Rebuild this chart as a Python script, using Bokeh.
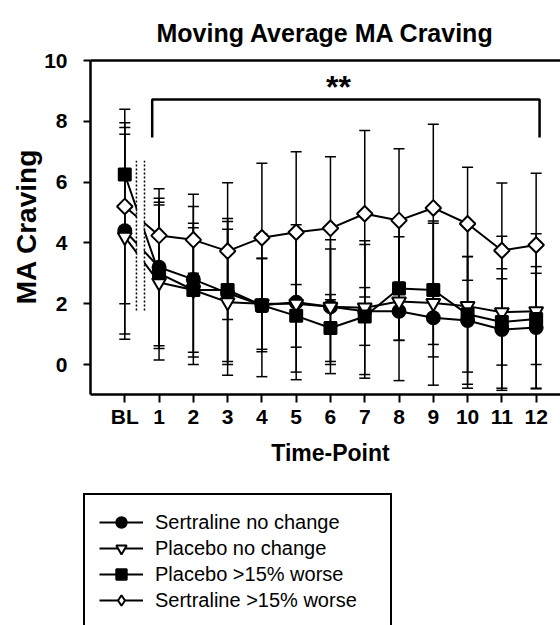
from bokeh.plotting import figure
from bokeh.models import (Range1d, LinearAxis, FixedTicker, ColumnDataSource, Whisker,
                          TeeHead, Legend, LegendItem, Label)
from bokeh.embed import file_html
from bokeh.resources import INLINE
import math

# ---------------- data ----------------
time_labels = ["BL", "1", "2", "3", "4", "5", "6", "7", "8", "9", "10", "11", "12"]
time_pos = list(range(13))

sert_nc = [4.40, 3.20, 2.80, 2.35, 1.95, 2.05, 1.90, 1.75, 1.75, 1.54, 1.45, 1.15, 1.22]
sert_nc_sd = [3.40, 2.58, 2.80, 2.35, 2.35, 2.55, 2.20, 2.20, 0.96, 0.88, 2.10, 2.00, 2.00]
plac_nc = [4.20, 2.70, 2.45, 2.05, 2.00, 2.00, 1.90, 1.87, 2.07, 2.02, 1.92, 1.72, 1.75]
plac_nc_sd = [3.37, 2.55, 2.05, 2.40, 1.50, 2.25, 1.90, 2.20, 2.60, 2.70, 2.70, 2.50, 2.55]
plac_w = [6.25, 3.00, 2.45, 2.45, 1.95, 1.60, 1.20, 1.58, 2.50, 2.45, 1.65, 1.40, 1.50]
plac_w_sd = [1.70, 2.47, 2.20, 2.35, 1.53, 1.03, 1.10, 0.95, 1.70, 2.20, 1.90, 1.42, 1.50]
sert_w = [5.20, 4.24, 4.10, 3.73, 4.17, 4.35, 4.48, 4.96, 4.74, 5.15, 4.63, 3.75, 3.93]
sert_w_sd = [3.20, 1.10, 1.10, 2.25, 2.45, 2.65, 2.35, 2.74, 2.36, 2.75, 1.86, 2.22, 2.36]

series_names = ["Sertraline no change", "Placebo no change", "Placebo >15% worse", "Sertraline >15% worse"]
y_ticks = [0, 2, 4, 6, 8, 10]

bracket_x = [0.8, 0.8, 12.1, 12.1]
bracket_y = [7.47, 8.72, 8.72, 7.47]
sig_text = "**"

break_x = [0.34, 0.575]
break_y = (1.78, 6.7)

FONT = "Liberation Sans"
W, H = 560, 625
PX_X, PX_Y = 34.28, 30.4          # pixels per data unit
LEFT_PX, TOP_PX = 90, 60          # axis position inside the canvas

x0 = -1 - LEFT_PX / PX_X
x1 = -1 + (W - LEFT_PX) / PX_X
y1 = 10 + TOP_PX / PX_Y
y0 = 10 - (H - TOP_PX) / PX_Y

def dx(px):
    return x0 + px / PX_X

def dy(py):
    return y1 - py / PX_Y

p = figure(width=W, height=H, x_range=Range1d(x0, x1), y_range=Range1d(y0, y1),
           output_backend="svg", toolbar_location=None, title=None,
           min_border_left=0, min_border_right=0, min_border_top=0, min_border_bottom=0)
p.outline_line_color = None
p.xgrid.visible = False
p.ygrid.visible = False
p.background_fill_color = "white"
p.border_fill_color = "white"

# axes drawn at fixed data locations
xa = p.xaxis[0]
ya = p.yaxis[0]
xa.ticker = FixedTicker(ticks=time_pos)
xa.major_label_overrides = {i: lbl for i, lbl in zip(time_pos, time_labels)}
xa.fixed_location = -1
xa.bounds = (-1, x1 + 0.05)
ya.ticker = FixedTicker(ticks=y_ticks)
ya.fixed_location = -1
ya.bounds = (-1, 10)
for ax in (xa, ya):
    ax.axis_line_width = 2.5
    ax.axis_line_color = "black"
    ax.major_tick_line_width = 2
    ax.major_tick_line_color = "black"
    ax.major_tick_in = 0
    ax.minor_tick_line_color = None
    ax.major_label_text_font = FONT
    ax.major_label_text_font_style = "bold"
    ax.major_label_text_font_size = "21px"
    ax.major_label_text_color = "black"
xa.major_tick_out = 8
xa.major_label_standoff = 2
ya.major_tick_out = 7
ya.major_label_standoff = 16

top_axis = LinearAxis(ticker=FixedTicker(ticks=[]), axis_line_width=2.5, axis_line_color="black",
                      major_tick_line_color=None, minor_tick_line_color=None,
                      major_label_text_font_size="0px", fixed_location=10,
                      bounds=(-1, x1 + 0.05))
p.add_layout(top_axis, "above")

# titles
p.add_layout(Label(x=dx(325), y=dy(32), text="Moving Average MA Craving", text_align="center",
                   text_baseline="middle", text_font=FONT, text_font_style="bold",
                   text_font_size="25px", text_color="black"))
p.add_layout(Label(x=dx(330), y=dy(452), text="Time-Point", text_align="center",
                   text_baseline="middle", text_font=FONT, text_font_style="bold",
                   text_font_size="23px", text_color="black"))
p.add_layout(Label(x=dx(26), y=dy(226), text="MA Craving", angle=math.pi / 2, text_align="center",
                   text_baseline="middle", text_font=FONT, text_font_style="bold",
                   text_font_size="28px", text_color="black"))

# series
specs = [
    (sert_nc, sert_nc_sd, dict(marker="circle", size=13, fill_color="black", angle=0)),
    (plac_nc, plac_nc_sd, dict(marker="inverted_triangle", size=14, fill_color="white", angle=0)),
    (plac_w, plac_w_sd, dict(marker="square", size=12, fill_color="black", angle=0)),
    (sert_w, sert_w_sd, dict(marker="square", size=11, fill_color="white", angle=math.pi / 4)),
]

line_rs = []
for vals, sds, st in specs:
    line_rs.append(p.line(time_pos, vals, line_color="black", line_width=2))

# broken axis gap between BL and 1
p.quad(left=[break_x[0] + 0.02], right=[break_x[1] - 0.02], bottom=[break_y[0]], top=[break_y[1]],
       fill_color="white", line_color=None)
p.segment(x0=break_x, y0=[break_y[0]] * 2, x1=break_x, y1=[break_y[1]] * 2,
          line_color="black", line_width=1.5, line_dash="2 2")

# error bars
for vals, sds, st in specs:
    src = ColumnDataSource(dict(x=time_pos,
                                upper=[v + s for v, s in zip(vals, sds)],
                                lower=[v - s for v, s in zip(vals, sds)]))
    w = Whisker(base="x", upper="upper", lower="lower", source=src,
                line_color="black", line_width=1.5,
                upper_head=TeeHead(size=11, line_width=1.5, line_color="black"),
                lower_head=TeeHead(size=11, line_width=1.5, line_color="black"))
    p.add_layout(w)

marker_rs = []
for vals, sds, st in specs:
    marker_rs.append(p.scatter(time_pos, vals, marker=st["marker"], size=st["size"],
                               fill_color=st["fill_color"], line_color="black", line_width=2,
                               angle=st["angle"]))
# legend symbol for the diamond series (legend glyphs are drawn unrotated)
diamond_key = p.scatter(time_pos, sert_w, marker="diamond", size=14, fill_color="white",
                        line_color="black", line_width=2, visible=False)

# significance bracket
p.line(bracket_x, bracket_y, line_color="black", line_width=2.5)
p.add_layout(Label(x=dx(338), y=dy(86), text=sig_text, text_align="center",
                   text_baseline="middle", text_font=FONT, text_font_style="bold",
                   text_font_size="32px", text_color="black"))

# legend
key_rs = [[line_rs[0], marker_rs[0]], [line_rs[1], marker_rs[1]],
          [line_rs[2], marker_rs[2]], [line_rs[3], diamond_key]]
items = [LegendItem(label=n, renderers=r) for n, r in zip(series_names, key_rs)]
spacer = p.line(time_pos, sert_nc, line_alpha=0, visible=False)
items.append(LegendItem(label=" ", renderers=[spacer]))

legend = Legend(items=items, location=(83, -30), orientation="vertical",
                border_line_color="black", border_line_width=2.5, border_line_alpha=1.0,
                background_fill_color="white",
                background_fill_alpha=1.0, inactive_fill_alpha=0.0,
                label_text_font=FONT, label_text_font_size="20px", label_text_color="black",
                glyph_width=44, glyph_height=26, label_height=26, label_width=221, spacing=0,
                padding=14, margin=0, label_standoff=12)
p.add_layout(legend, "center")

open("out.html", "w").write(file_html(p, INLINE))
